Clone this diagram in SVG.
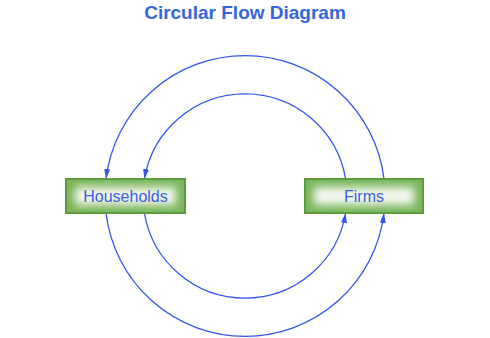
<svg xmlns="http://www.w3.org/2000/svg" width="490" height="338" viewBox="0 0 490 338">
<style>
.title{font-family:"Liberation Sans",Arial,sans-serif;font-weight:bold;font-size:19px;fill:#3366dd;text-anchor:middle}
.lbl{font-family:"Liberation Sans",Arial,sans-serif;font-size:16px;fill:#3a5ce0;text-anchor:middle}
.box{fill:#7ab55a;stroke:#5a9a3c;stroke-width:2}
.glow{fill:#f4f8ef;filter:url(#blur)}
.flow{fill:none;stroke:#3355ee;stroke-width:1.3;marker-end:url(#ah)}
</style>
<defs>
<filter id="blur" x="-20%" y="-50%" width="140%" height="200%">
<feGaussianBlur stdDeviation="4"/>
</filter>
<marker id="ah" viewBox="0 0 10 6" refX="10" refY="3" markerWidth="10" markerHeight="6" markerUnits="userSpaceOnUse" orient="auto">
<path d="M0,0 L10,3 L0,6 Z" fill="#3355ee"/>
</marker>
</defs>
<rect width="490" height="338" fill="#ffffff"/>
<text class="title" x="245" y="19">Circular Flow Diagram</text>
<g id="connectors">
<path class="flow" d="M384,179 A140,140 0 0 0 106,179"/>
<path class="flow" d="M345.6,179 A102,102 0 0 0 144.4,179"/>
<path class="flow" d="M106,213 A140,140 0 0 0 384,213"/>
<path class="flow" d="M144.4,213 A102,102 0 0 0 345.6,213"/>
</g>
<g id="households">
<rect class="box" x="66" y="179" width="119" height="34"/>
<rect class="glow" x="75" y="187" width="101" height="18"/>
<text class="lbl" x="125.5" y="202">Households</text>
</g>
<g id="firms">
<rect class="box" x="305" y="179" width="118" height="34"/>
<rect class="glow" x="314" y="187" width="100" height="18"/>
<text class="lbl" x="364" y="202">Firms</text>
</g>
</svg>
